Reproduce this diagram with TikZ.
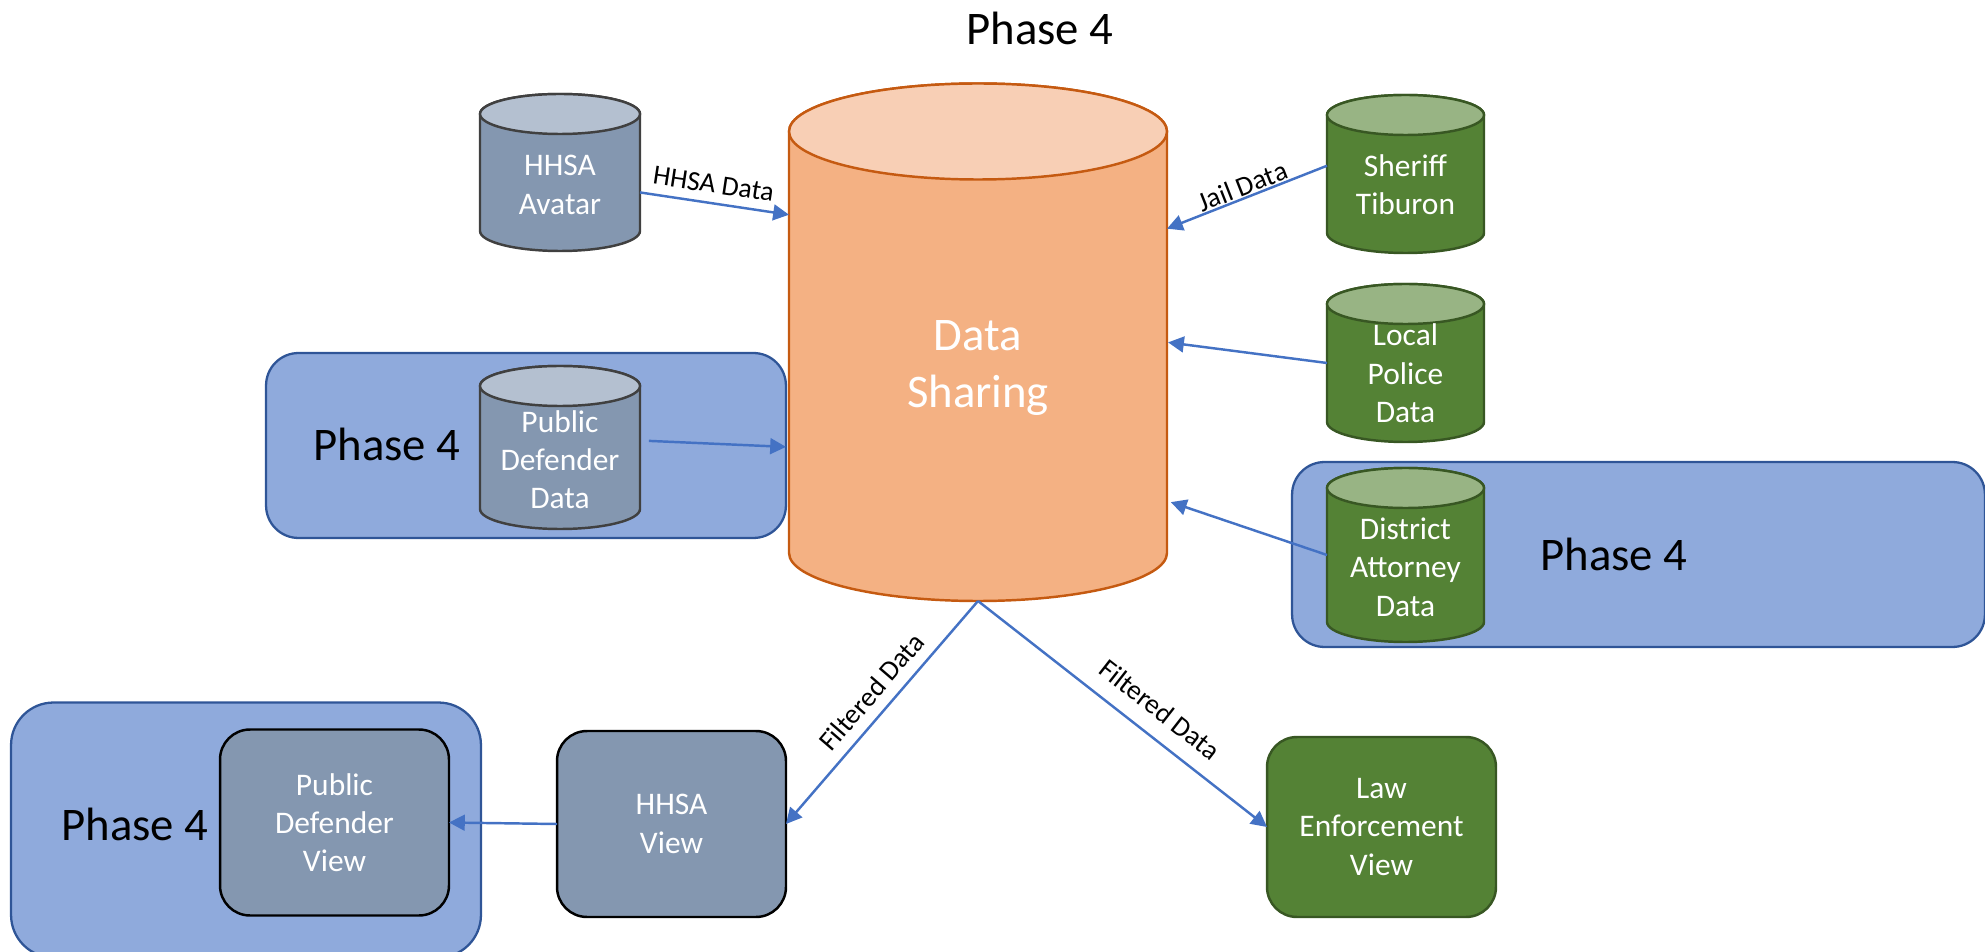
\documentclass[tikz,border=0pt]{standalone}
\usepackage{fontspec}
\setmainfont{Carlito}
\usetikzlibrary{fit,arrows.meta}
\definecolor{phasefill}{HTML}{8FAADC}
\definecolor{phaseline}{HTML}{2F5597}
\definecolor{linkblue}{HTML}{4472C4}
\definecolor{slatefill}{HTML}{8497B0}
\definecolor{slatetop}{HTML}{B4C0D0}
\definecolor{slateline}{HTML}{404040}
\definecolor{greenfill}{HTML}{548235}
\definecolor{greentop}{HTML}{98B484}
\definecolor{greenline}{HTML}{385723}
\definecolor{orangefill}{HTML}{F4B183}
\definecolor{orangetop}{HTML}{F8CFB5}
\definecolor{orangeline}{HTML}{C55A11}
% name, centre x, top, bottom, half width, end height, body, end, line
\newcommand{\storecan}[9]{
    \node[fit={({#2-#5},#3) ({#2+#5},#4)}, inner sep=0pt, outer sep=0pt] (#1) {};
    \draw[line width=1.4pt, draw=#9, fill=#7] ({#2-#5},{#3+#6}) -- ({#2-#5},{#4-#6})
        arc[start angle=180, end angle=360, x radius=#5*0.02cm, y radius=#6*0.02cm]
        -- ({#2+#5},{#3+#6})
        arc[start angle=0, end angle=180, x radius=#5*0.02cm, y radius=#6*0.02cm] -- cycle;
    \draw[line width=1.4pt, draw=#9, fill=#8] (#2,{#3+#6}) ellipse [x radius=#5*0.02cm, y radius=#6*0.02cm];
}
\tikzset{
    bigtext/.style={font=\fontsize{26.6}{32.5}\selectfont},
    smalltext/.style={font=\fontsize{17.9}{21.8}\selectfont, text=white, align=center},
    linktext/.style={font=\fontsize{15.8}{18}\selectfont, sloped, above},
    link/.style={draw=linkblue, line width=1.4pt, -{Triangle[length=9pt,width=9pt]}},
    phasebox/.style={draw=phaseline, fill=phasefill, line width=1.3pt, rounded corners=0.65cm},
    viewbox/.style={draw, rounded corners=0.6cm, line width=1.4pt, smalltext,
        inner sep=0pt, outer sep=0pt, minimum width=4.58cm, minimum height=3.72cm},
}
\begin{document}
\begin{tikzpicture}[x=0.02cm, y=-0.02cm]
    \useasboundingbox (0,0) rectangle (1985,952);

    % Phase 4 panels behind the stores
    \node[phasebox, minimum width=10.4cm, minimum height=3.7cm] (phaseleft) at (526,445.5) {};
    \node[phasebox, minimum width=13.86cm, minimum height=3.7cm] (phaseright) at (1638.5,554.5) {};
    \node[phasebox, rounded corners=0.85cm, minimum width=9.4cm, minimum height=5.1cm] (phaseview) at (246,830) {};

    % Central store
    \storecan{data}{978}{83.5}{601}{189}{48}{orangefill}{orangetop}{orangeline}
    \node[bigtext, text=white, align=center] (datatext) at (978,368) {Data\\Sharing};

    % Source stores
    \storecan{avatar}{560}{94}{251}{80}{20}{slatefill}{slatetop}{slateline}
    \node[smalltext] (avatartext) at (560,185) {HHSA\\Avatar};
    \storecan{defender}{560}{366}{529}{80}{20}{slatefill}{slatetop}{slateline}
    \node[smalltext] (defendertext) at (560,459.5) {Public\\Defender\\Data};
    \storecan{sheriff}{1405.5}{95}{253}{78.5}{20}{greenfill}{greentop}{greenline}
    \node[smalltext] (sherifftext) at (1405.5,185) {Sheriff\\Tiburon};
    \storecan{police}{1405.5}{284}{442}{78.5}{20}{greenfill}{greentop}{greenline}
    \node[smalltext] (policetext) at (1405.5,373.5) {Local\\Police\\Data};
    \storecan{attorney}{1405.5}{468}{642}{78.5}{20}{greenfill}{greentop}{greenline}
    \node[smalltext] (attorneytext) at (1405.5,567) {District\\Attorney\\Data};

    % Views
    \node[viewbox, fill=slatefill] (hhsaview) at (671.5,824) {HHSA\\View};
    \node[viewbox, fill=slatefill] (defenderview) at (334.5,822.5) {Public\\Defender\\View};
    \node[viewbox, fill=greenfill, draw=greenline, minimum height=3.6cm] (lawview) at (1381.5,827) {Law\\Enforcement\\View};

    % Phase 4 captions
    \node[bigtext] (phasetop) at (1040,28) {Phase 4};
    \node[bigtext] (phaseleftlabel) at (387,444) {Phase 4};
    \node[bigtext] (phaserightlabel) at (1614,554) {Phase 4};
    \node[bigtext] (phaseviewlabel) at (135,824) {Phase 4};

    % Links
    \draw[link] (avatar.-14) -- node[linktext, pos=0.475, inner sep=5pt] {HHSA Data} (data.146.8);
    \draw[link] (sheriff.174.9) -- node[linktext, inner sep=0.5pt] {Jail Data} (data.31.65);
    \draw[link, shorten >=0.6pt] (police.west) -- (data.0.5);
    \draw[link, shorten >=2.3pt] (attorney.west) -- (data.-40.5);
    \draw[link, shorten <=5.1pt, shorten >=1.7pt] (defender.5) -- (data.209.5);
    \draw[link] (data.south) -- node[linktext, pos=0.47, inner sep=6pt] {Filtered Data} (hhsaview.east);
    \draw[link] (data.south) -- node[linktext, pos=0.573, inner sep=9pt] {Filtered Data} (lawview.west);
    \draw[link] (hhsaview.west) -- (defenderview.east);
\end{tikzpicture}
\end{document}
